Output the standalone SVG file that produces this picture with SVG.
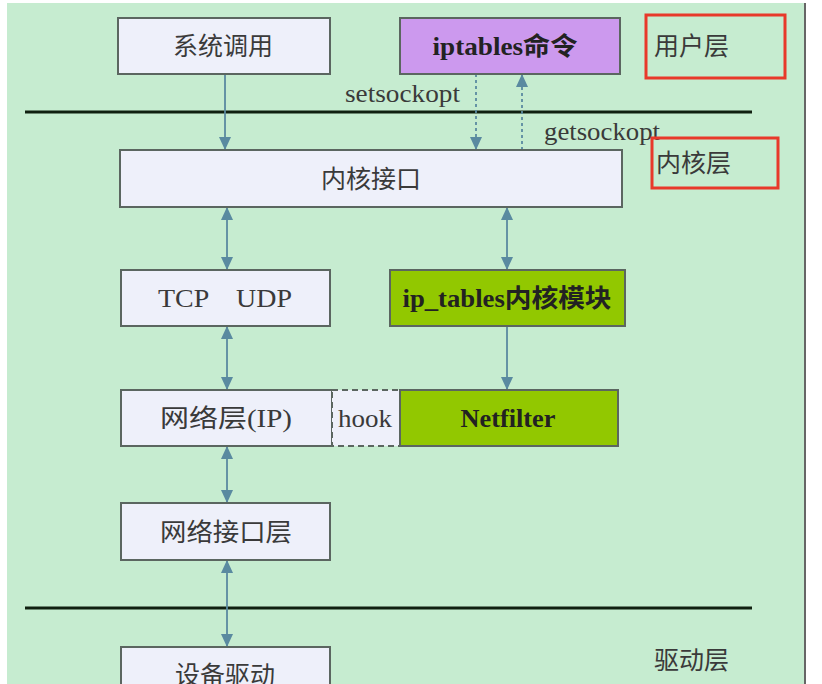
<svg xmlns="http://www.w3.org/2000/svg" width="822" height="684" viewBox="0 0 822 684">
<style>
.box{fill:#eef0fa;stroke:#5b6660;stroke-width:2}
.purple{fill:#cc99ee;stroke:#5b6660;stroke-width:2}
.green{fill:#92c800;stroke:#5b6660;stroke-width:2}
.red{fill:none;stroke:#e8392a;stroke-width:3}
.t{font-family:"Liberation Serif","Noto Sans CJK SC",serif;font-size:25px;fill:#3a3a3a;text-anchor:middle}
.b{font-weight:bold;fill:#222}
.l{font-family:"Liberation Serif","Noto Sans CJK SC",serif;font-size:25px;fill:#3a3a3a}
.c{stroke:#5a8aa0;stroke-width:1.8;fill:none}
.d{stroke-dasharray:3 3}
</style>
<defs>
<marker id="ah" viewBox="0 0 10 10" refX="10" refY="5" markerWidth="13" markerHeight="12" orient="auto-start-reverse" markerUnits="userSpaceOnUse" preserveAspectRatio="none">
<path d="M0,0 L10,5 L0,10 z" fill="#5a8aa0"/>
</marker>
</defs>
<rect x="0" y="0" width="822" height="684" fill="#ffffff"/>
<rect x="7" y="3" width="798" height="681" fill="#c6ecd0"/>
<line x1="805" y1="3" x2="805" y2="684" stroke="#666" stroke-width="2"/>
<line x1="25" y1="112" x2="752" y2="112" stroke="#102010" stroke-width="3"/>
<line x1="25" y1="608" x2="752" y2="608" stroke="#102010" stroke-width="3"/>

<g id="connectors">
<line class="c" x1="225" y1="74" x2="225" y2="150" marker-end="url(#ah)"/>
<line class="c d" x1="476" y1="74" x2="476" y2="150" marker-end="url(#ah)"/>
<line class="c d" x1="522" y1="150" x2="522" y2="74" marker-end="url(#ah)"/>
<line class="c" x1="227" y1="207" x2="227" y2="270" marker-start="url(#ah)" marker-end="url(#ah)"/>
<line class="c" x1="507" y1="207" x2="507" y2="270" marker-start="url(#ah)" marker-end="url(#ah)"/>
<line class="c" x1="507" y1="326" x2="507" y2="390" marker-end="url(#ah)"/>
<line class="c" x1="227" y1="326" x2="227" y2="390" marker-start="url(#ah)" marker-end="url(#ah)"/>
<line class="c" x1="227" y1="446" x2="227" y2="503" marker-start="url(#ah)" marker-end="url(#ah)"/>
<line class="c" x1="227" y1="560" x2="227" y2="647" marker-start="url(#ah)" marker-end="url(#ah)"/>
</g>

<text class="l" x="345" y="102" textLength="115" lengthAdjust="spacingAndGlyphs">setsockopt</text>
<text class="l" x="544" y="140" textLength="116" lengthAdjust="spacingAndGlyphs">getsockopt</text>

<g id="syscall"><rect class="box" x="118" y="18" width="212" height="56"/><text class="t" x="223" y="55">系统调用</text></g>
<g id="iptables"><rect class="purple" x="400" y="18" width="220" height="56"/><text class="t b" x="505" y="55" textLength="145" lengthAdjust="spacingAndGlyphs">iptables命令</text></g>
<g id="userlayer"><rect class="red" x="646" y="15" width="139" height="63"/><text class="l" x="654" y="55">用户层</text></g>
<g id="kernelif"><rect class="box" x="120" y="150" width="502" height="57"/><text class="t" x="371" y="188">内核接口</text></g>
<g id="kernellayer"><rect class="red" x="652" y="138" width="126" height="50"/><text class="l" x="656" y="172">内核层</text></g>
<g id="tcpudp"><rect class="box" x="121" y="270" width="209" height="56"/><text class="t" x="225" y="307" xml:space="preserve" textLength="134" lengthAdjust="spacingAndGlyphs">TCP    UDP</text></g>
<g id="iptablesmod"><rect class="green" x="390" y="270" width="235" height="56"/><text class="t b" x="507" y="307" textLength="209" lengthAdjust="spacingAndGlyphs">ip_tables内核模块</text></g>
<g id="netlayer"><rect class="box" x="121" y="390" width="211" height="56"/><text class="t" x="226" y="427" textLength="132" lengthAdjust="spacingAndGlyphs">网络层(IP)</text></g>
<g id="hook"><rect x="332" y="390" width="68" height="56" fill="#eef0fa" stroke="#5b6660" stroke-width="2" stroke-dasharray="6 4"/><text class="t" x="365" y="427" textLength="54" lengthAdjust="spacingAndGlyphs">hook</text></g>
<g id="netfilter"><rect class="green" x="400" y="390" width="218" height="56"/><text class="t b" x="508" y="427" textLength="95" lengthAdjust="spacingAndGlyphs">Netfilter</text></g>
<g id="netif"><rect class="box" x="121" y="503" width="209" height="57"/><text class="t" x="226" y="541" textLength="132" lengthAdjust="spacingAndGlyphs">网络接口层</text></g>
<g id="driver"><rect class="box" x="121" y="647" width="209" height="50"/><text class="t" x="225" y="684">设备驱动</text></g>
<text class="l" x="654" y="669">驱动层</text>
</svg>
